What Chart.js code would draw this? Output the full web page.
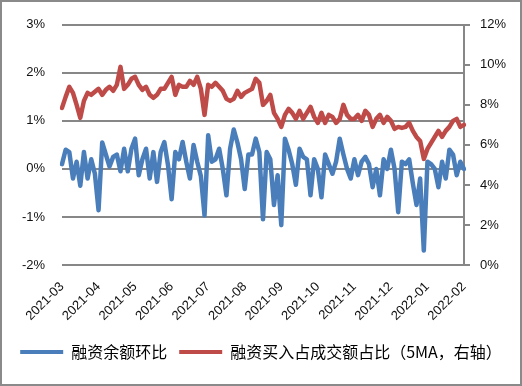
<!DOCTYPE html>
<html>
<head>
<meta charset="utf-8">
<script src="https://cdn.jsdelivr.net/npm/chart.js@4"></script>
<style>
	html, body { margin: 0; padding: 0; background: #fff; }
</style>
</head>
<body>
<canvas id="marginChart" width="522" height="386"></canvas>
<script>
// month tick labels, one every 10 points
var monthTicks = ['2021-03', '2021-04', '2021-05', '2021-06', '2021-07', '2021-08',
	'2021-09', '2021-10', '2021-11', '2021-12', '2022-01', '2022-02'];
var pointsPerMonth = 10;

// 融资余额环比 (%), left axis
var balanceChange = [
	0.1, 0.4, 0.35, -0.2, 0.15, -0.35, 0.35, -0.2, 0.2, -0.1,
	-0.86, 0.55, 0.3, 0.05, 0.25, 0.3, -0.05, 0.42, -0.05, 0.42,
	0.63, -0.13, 0.2, 0.42, -0.2, 0.35, -0.27, 0.35, 0.56, 0.08,
	-0.63, 0.35, 0.2, 0.56, 0.15, -0.2, 0.5, 0.15, -0.15, -0.97,
	0.7, 0.15, 0.2, 0.42, 0.0, -0.55, 0.42, 0.82, 0.55, 0.2,
	-0.42, 0.3, 0.3, 0.63, 0.35, -1.05, 0.35, 0.2, -0.75, -0.13,
	-1.17, 0.63, 0.4, 0.1, -0.33, 0.42, 0.25, 0.2, -0.55, 0.2,
	0.0, -0.59, 0.3, 0.1, -0.1, 0.15, 0.63, 0.3, 0.0, -0.2,
	0.2, -0.13, 0.15, 0.25, 0.1, -0.38, 0.0, -0.55, 0.2, 0.0,
	0.4, 0.0, -0.9, 0.15, 0.1, 0.2, -0.3, -0.75, -0.2, -1.7,
	0.15, 0.1, 0.0, -0.38, 0.15, -0.2, 0.4, 0.3, -0.13, 0.15, 0.0
];

// 融资买入占成交额占比 5MA (%), right axis
var buyShare = [
	7.85, 8.4, 8.9, 8.6, 8.0, 7.35, 8.2, 8.6, 8.5, 8.65,
	8.8, 8.5, 8.75, 8.9, 8.7, 9.0, 9.9, 8.8, 9.0, 9.3,
	9.4, 9.0, 8.75, 8.9, 8.5, 8.35, 8.5, 8.8, 8.8, 9.1,
	9.4, 8.5, 9.0, 8.9, 8.9, 9.2, 9.0, 9.4, 8.8, 7.5,
	9.0, 8.9, 9.1, 8.9, 8.7, 8.3, 8.2, 8.3, 8.7, 8.4,
	8.6, 8.7, 8.8, 9.3, 9.1, 8.0, 8.2, 8.5, 7.6, 7.3,
	6.9, 7.5, 7.8, 7.6, 7.3, 7.7, 7.3, 7.6, 7.9, 7.4,
	7.1, 7.6, 7.1, 7.5, 7.4, 7.1, 7.3, 8.0, 7.5, 7.3,
	7.3, 7.5, 7.2, 7.7, 7.5, 6.9, 7.3, 7.5, 7.1, 7.4,
	7.2, 6.8, 6.9, 6.85, 6.9, 7.1, 6.7, 6.4, 6.2, 5.3,
	5.8, 6.1, 6.4, 6.7, 6.4, 6.7, 6.9, 7.2, 7.3, 6.9, 7.0
];

var seriesNames = ['融资余额环比', '融资买入占成交额占比（5MA，右轴）'];
var seriesColors = ['#4a7ebb', '#be4b48'];

var labels = balanceChange.map(function (v, i) {
	return i % pointsPerMonth === 0 ? monthTicks[i / pointsPerMonth] : '';
});

var gridGray = '#878787';

Chart.defaults.font.family = "'Liberation Sans', 'Noto Sans CJK SC', sans-serif";
Chart.defaults.font.size = 13;
Chart.defaults.color = '#111';

var frame = {
	id: 'frame',
	afterDraw: function (chart) {
		var ctx = chart.ctx;
		ctx.save();
		ctx.strokeStyle = '#8a8a8a';
		ctx.lineWidth = 2;
		ctx.strokeRect(1, 1, 520, 384);
		ctx.restore();
	}
};

new Chart(document.getElementById('marginChart'), {
	type: 'line',
	data: {
		labels: labels,
		datasets: [
			{
				label: seriesNames[0],
				data: balanceChange,
				yAxisID: 'y',
				borderColor: seriesColors[0],
				backgroundColor: seriesColors[0],
				borderWidth: 4.5,
				pointRadius: 0,
				tension: 0,
				borderJoinStyle: 'round',
				borderCapStyle: 'round',
				order: 2,
			},
			{
				label: seriesNames[1],
				data: buyShare,
				yAxisID: 'y2',
				borderColor: seriesColors[1],
				backgroundColor: seriesColors[1],
				borderWidth: 4.5,
				pointRadius: 0,
				tension: 0,
				borderJoinStyle: 'round',
				borderCapStyle: 'round',
				order: 1,
			},
		],
	},
	options: {
		responsive: false,
		animation: false,
		devicePixelRatio: 1,
		layout: {
			padding: { left: 0, right: 0, top: 24, bottom: 16 },
		},
		plugins: {
			tooltip: { enabled: false },
			legend: {
				position: 'bottom',
				labels: {
					boxWidth: 43,
					boxHeight: 4,
					padding: 12,
					color: '#111',
					font: { family: "'Noto Sans CJK SC', sans-serif", size: 16 },
					generateLabels: function (chart) {
						return chart.data.datasets.map(function (ds, i) {
							return {
								text: ds.label,
								fillStyle: ds.borderColor,
								strokeStyle: ds.borderColor,
								lineWidth: 0,
								datasetIndex: i,
							};
						});
					},
				},
			},
		},
		scales: {
			x: {
				type: 'category',
				grid: { display: false },
				border: { display: false },
				ticks: {
					autoSkip: false,
					minRotation: 45,
					maxRotation: 45,
					padding: 6,
					callback: function (v, i) { return labels[i]; },
				},
				afterFit: function (scale) { scale.height = 67; },
			},
			y: {
				position: 'left',
				min: -2,
				max: 3,
				ticks: {
					stepSize: 1,
					padding: 17,
					callback: function (v) { return v + '%'; },
				},
				grid: { color: gridGray, lineWidth: 2, drawTicks: false },
				border: { display: false },
				afterFit: function (scale) { scale.width = 62; },
			},
			y2: {
				position: 'right',
				min: 0,
				max: 12,
				ticks: {
					stepSize: 2,
					padding: 10,
					callback: function (v) { return v + '%'; },
				},
				grid: { drawOnChartArea: false, drawTicks: true, tickLength: 6, color: gridGray, lineWidth: 2 },
				border: { display: true, color: gridGray, width: 2 },
				afterFit: function (scale) { scale.width = 58; },
			},
		},
	},
	plugins: [frame],
});
</script>
</body>
</html>
